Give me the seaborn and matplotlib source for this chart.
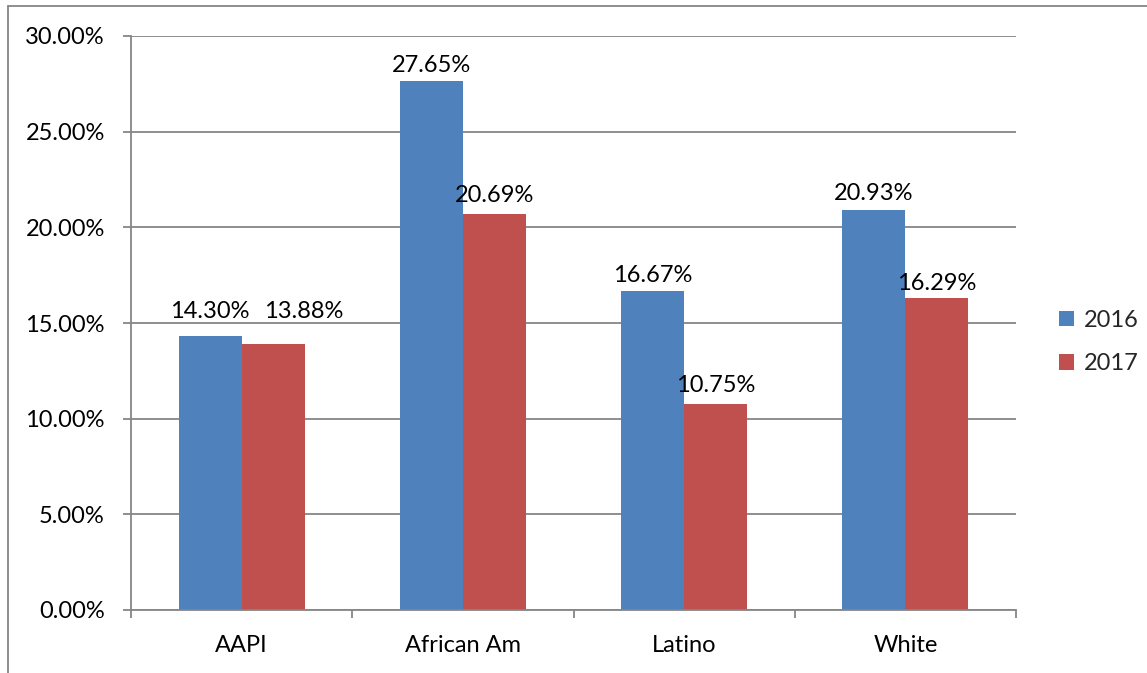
import matplotlib
matplotlib.use("Agg")
import matplotlib.pyplot as plt
from matplotlib.lines import Line2D
import seaborn as sns
import pandas as pd
import numpy as np

# ---- data ----
categories = ["AAPI", "African Am", "Latino", "White"]
years = ["2016", "2017"]
values_2016 = [14.30, 27.65, 16.67, 20.93]
values_2017 = [13.88, 20.69, 10.75, 16.29]
y_ticks = [0, 5, 10, 15, 20, 25, 30]

df = pd.DataFrame({
    "category": categories * 2,
    "year": [years[0]] * len(categories) + [years[1]] * len(categories),
    "value": values_2016 + values_2017,
})

sns.set_theme(style="white")
plt.rcParams["font.family"] = ["Lato", "DejaVu Sans"]

FS = 17
GRAY = "#868686"
BLUE = "#4F81BD"
RED = "#C0504D"

W, H = 1147, 673
fig = plt.figure(figsize=(W / 100, H / 100), dpi=100)
fig.patch.set_facecolor("white")
ax = fig.add_axes([131 / W, 63 / H, 885 / W, 574 / H])

sns.barplot(data=df, x="category", y="value", hue="year", order=categories,
            hue_order=years, palette=[BLUE, RED], saturation=1, width=0.57,
            ax=ax, edgecolor="none", linewidth=0, legend=True)

ax.set_xlim(-0.5, len(categories) - 0.5)
ax.set_ylim(0, 30)
ax.set_yticks(y_ticks)
ax.set_yticklabels([f"{t:.2f}%" for t in y_ticks], fontsize=FS, color="black")
ax.set_xticks(range(len(categories)))
ax.set_xticklabels(categories, fontsize=FS, color="black")
ax.set_xticks(np.arange(-0.5, len(categories), 1.0), minor=True)
ax.set_xlabel("")
ax.set_ylabel("")

ax.yaxis.grid(True, color=GRAY, linewidth=1.3)
ax.xaxis.grid(False)
ax.set_axisbelow(True)
for s in ["top", "right"]:
    ax.spines[s].set_visible(False)
for s in ["left", "bottom"]:
    ax.spines[s].set_visible(True)
    ax.spines[s].set_color(GRAY)
    ax.spines[s].set_linewidth(1.3)

ax.tick_params(axis="y", which="major", left=True, length=5.8, width=1.3,
               color=GRAY, pad=13)
ax.tick_params(axis="x", which="major", bottom=True, length=0, pad=18)
ax.tick_params(axis="x", which="minor", bottom=True, length=5.8, width=1.3,
               color=GRAY)

# data labels: (x, baseline y) offsets in points, per year then per category
offsets = [[(0, 13.2), (0, 6.5), (0, 6.5), (0, 7.0)],
           [(22, 19.0), (0, 8.6), (0, 8.6), (0, 5.8)]]
for hi, cont in enumerate(ax.containers):
    for ci, bar in enumerate(cont):
        h = bar.get_height()
        ax.annotate(f"{h:.2f}%", (bar.get_x() + bar.get_width() / 2, h),
                    xytext=offsets[hi][ci], textcoords="offset points",
                    ha="center", va="baseline", fontsize=FS, color="black")

leg = ax.legend(loc="center left", bbox_to_anchor=(1059 / W, 1 - 342 / H),
                bbox_transform=fig.transFigure, frameon=False, fontsize=FS,
                handlelength=0.64, handleheight=0.64, handletextpad=0.4,
                labelspacing=0.95, borderpad=0, borderaxespad=0, title=None)

# outer frame (partially visible chart border)
fig.add_artist(Line2D([8 / W, 8 / W], [0, 1 - 6 / H], transform=fig.transFigure,
                      color=GRAY, linewidth=1.3))
fig.add_artist(Line2D([8 / W, 1], [1 - 6 / H, 1 - 6 / H], transform=fig.transFigure,
                      color=GRAY, linewidth=1.3))

fig.savefig("out.png", dpi=100, facecolor="white")
